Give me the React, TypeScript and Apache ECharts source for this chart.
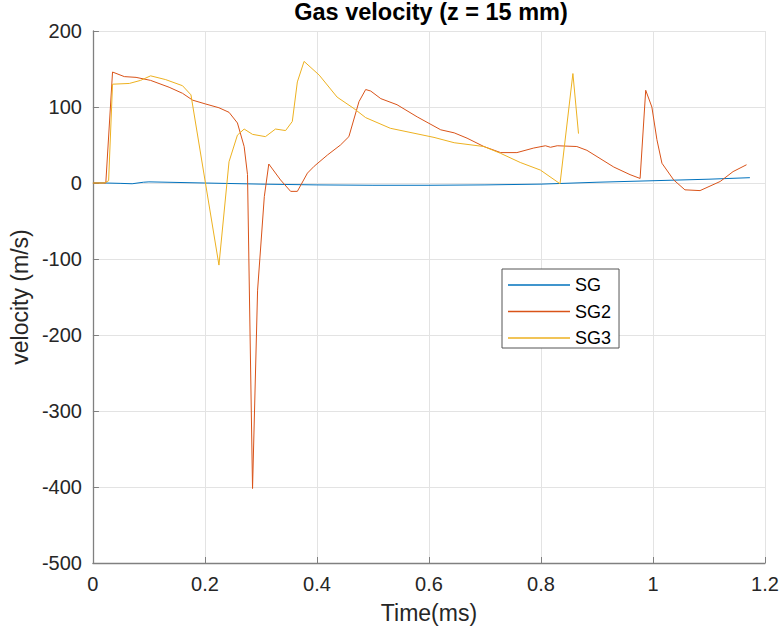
import React, { useEffect, useRef } from "react";
import * as echarts from "echarts";

const xTicks = { min: 0, max: 1.2, interval: 0.2 };
const yTicks = { min: -500, max: 200, interval: 100 };

const sgTime = [0, 0.023, 0.05, 0.07, 0.09, 0.1, 0.2, 0.3, 0.4, 0.5, 0.6, 0.7, 0.8, 0.9, 1.0, 1.1, 1.173];
const sgVel = [0, 0, -0.5, -1, 1, 1.5, 0, -1.5, -2.5, -3, -3, -2.5, -1.5, 1, 3, 5, 7];

const sg2Time = [0, 0.023, 0.035, 0.056, 0.077, 0.103, 0.136, 0.16, 0.178, 0.201, 0.225, 0.243, 0.258, 0.27, 0.276, 0.285, 0.294, 0.306, 0.314, 0.335, 0.353, 0.365, 0.383, 0.395, 0.419, 0.442, 0.457, 0.475, 0.487, 0.496, 0.514, 0.543, 0.579, 0.621, 0.645, 0.668, 0.698, 0.728, 0.757, 0.787, 0.808, 0.817, 0.829, 0.864, 0.882, 0.93, 0.959, 0.977, 0.987, 0.998, 1.007, 1.016, 1.037, 1.057, 1.084, 1.12, 1.143, 1.167];
const sg2Vel = [0, 0, 146, 140, 139, 135, 126, 118, 109, 104, 99, 93, 79, 48, 11, -402, -141, -18, 25, 4, -11, -11, 13, 22, 37, 50, 61, 107, 123, 121, 111, 103, 87, 70, 66, 59, 48, 40, 40, 46, 49, 47, 49, 48, 43, 21, 11, 6, 122, 100, 57, 26, 4, -9, -10, 2, 15, 24];

const sg3Time = [0, 0.02, 0.028, 0.035, 0.065, 0.085, 0.103, 0.13, 0.16, 0.175, 0.225, 0.243, 0.258, 0.27, 0.285, 0.308, 0.326, 0.344, 0.356, 0.365, 0.377, 0.404, 0.436, 0.466, 0.487, 0.531, 0.609, 0.645, 0.698, 0.728, 0.763, 0.799, 0.834, 0.857, 0.867];
const sg3Vel = [0, 0, 3, 130, 131, 135, 141, 136, 128, 116, -108, 28, 63, 71, 64, 61, 71, 69, 81, 133, 160, 142, 113, 98, 86, 72, 60, 53, 48, 39, 27, 17, -1, 144, 65];

const seriesNames = ["SG", "SG2", "SG3"];
const seriesColors = ["#0072BD", "#D95319", "#EDB120"];

const FONT = "'Liberation Sans', Arial, sans-serif";

function pairs(t: number[], v: number[]) {
  return t.map((x, i) => [x, v[i]]);
}

export default function App() {
  const ref = useRef<HTMLDivElement>(null);
  useEffect(() => {
    if (!ref.current) return;
    const chart = echarts.init(ref.current, null, { renderer: "svg" });
    const datasets = [pairs(sgTime, sgVel), pairs(sg2Time, sg2Vel), pairs(sg3Time, sg3Vel)];
    chart.setOption({
      animation: false,
      backgroundColor: "#ffffff",
      textStyle: { fontFamily: FONT },
      title: {
        text: "Gas velocity (z = 15 mm)",
        left: 431,
        textAlign: "center",
        top: 0,
        padding: 0,
        textStyle: { fontFamily: FONT, fontSize: 23.5, fontWeight: "bold", color: "#000000" },
      },
      grid: { left: 92, right: 18, top: 31, bottom: 71, containLabel: false },
      legend: {
        orient: "vertical",
        left: 502,
        top: 269,
        padding: [7, 8, 1, 6],
        itemGap: 8.5,
        itemWidth: 62,
        itemHeight: 1.5,
        icon: "rect",
        backgroundColor: "#ffffff",
        borderColor: "#555555",
        borderWidth: 1,
        borderRadius: 0,
        textStyle: { fontFamily: FONT, fontSize: 18, color: "#000000", lineHeight: 18 },
        data: seriesNames,
      },
      xAxis: {
        type: "value",
        min: xTicks.min,
        max: xTicks.max,
        interval: xTicks.interval,
        name: "Time(ms)",
        nameLocation: "middle",
        nameGap: 38,
        nameTextStyle: { fontFamily: FONT, fontSize: 23, color: "#262626" },
        axisLine: { show: true, onZero: false, lineStyle: { color: "#808080", width: 1.3 } },
        axisTick: { show: true, inside: true, length: 6, lineStyle: { color: "#808080" } },
        axisLabel: { margin: 11, fontFamily: FONT, fontSize: 20, color: "#262626" },
        splitLine: { show: true, lineStyle: { color: "#e3e3e3", width: 1 } },
      },
      yAxis: {
        type: "value",
        min: yTicks.min,
        max: yTicks.max,
        interval: yTicks.interval,
        name: "velocity (m/s)",
        nameLocation: "middle",
        nameGap: 56,
        nameTextStyle: { fontFamily: FONT, fontSize: 23, color: "#262626" },
        axisLine: { show: true, onZero: false, lineStyle: { color: "#808080", width: 1.3 } },
        axisTick: { show: true, inside: true, length: 6, lineStyle: { color: "#808080" } },
        axisLabel: { margin: 11, fontFamily: FONT, fontSize: 20, color: "#262626" },
        splitLine: { show: true, lineStyle: { color: "#e3e3e3", width: 1 } },
      },
      series: seriesNames.map((name, i) => ({
        name,
        type: "line",
        data: datasets[i],
        showSymbol: false,
        symbol: "none",
        color: seriesColors[i],
        lineStyle: { width: 1, color: seriesColors[i] },
        z: 3 + i,
      })),
    });
    return () => chart.dispose();
  }, []);
  return (
    <div
      ref={ref}
      style={{ position: "fixed", left: 0, top: 0, width: 783, height: 634 }}
    />
  );
}
